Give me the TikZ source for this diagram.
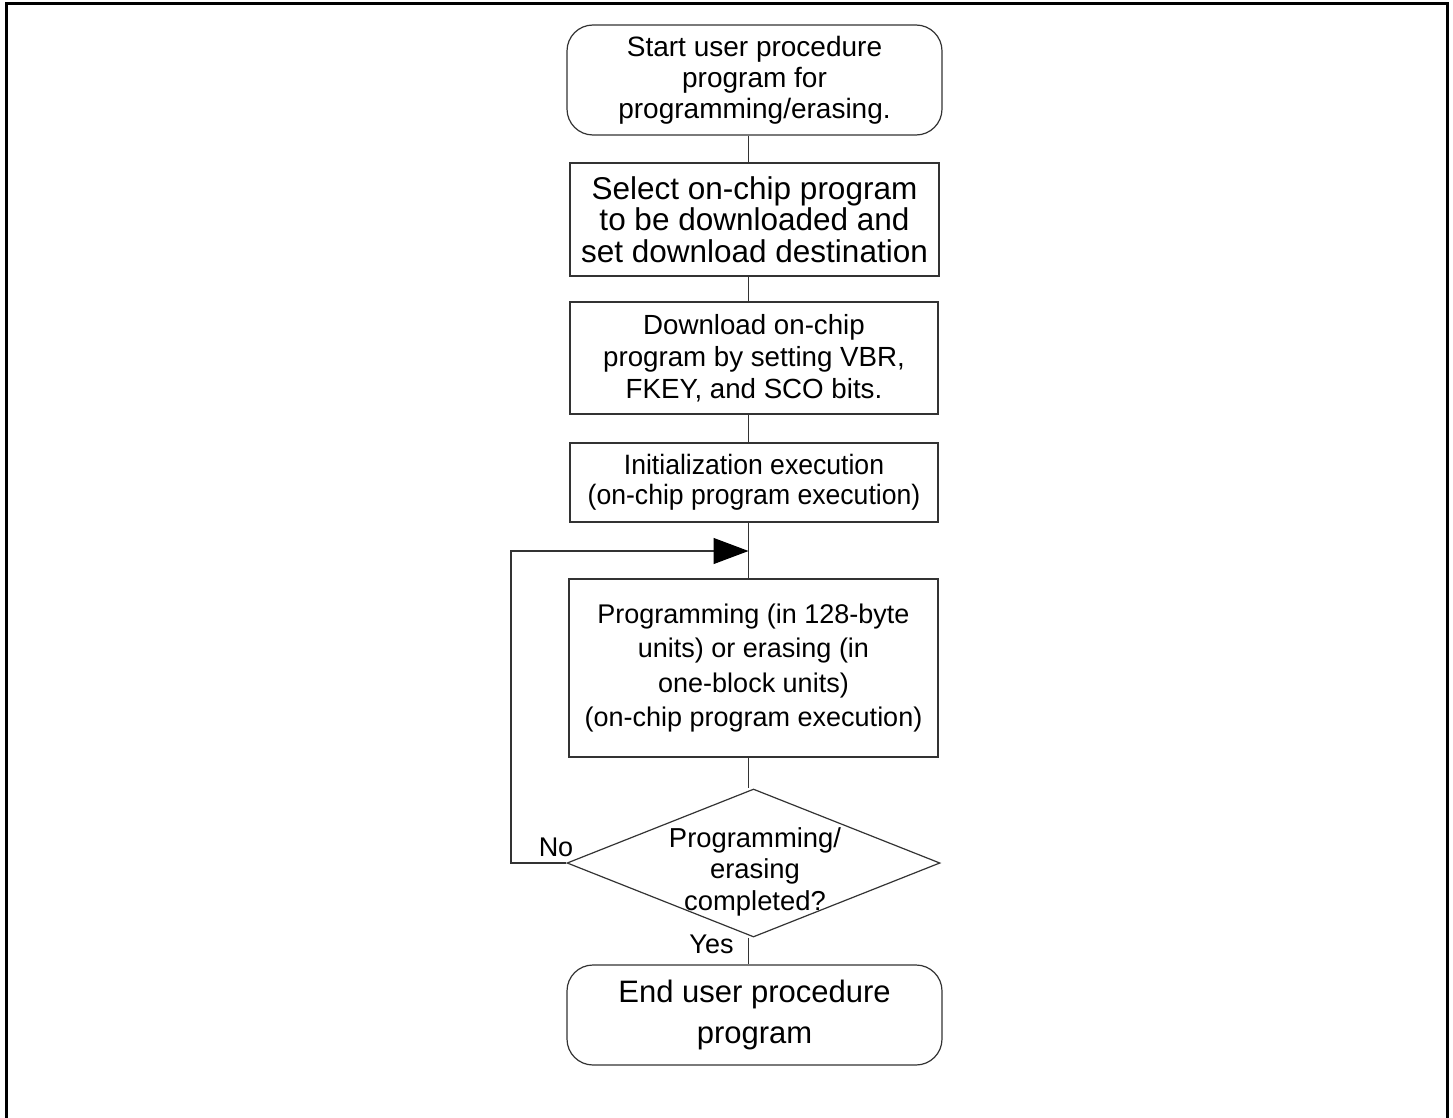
\documentclass[tikz,border=0pt]{standalone}
\usepackage{fontspec}
\setmainfont{Liberation Sans}
\newfontfamily\condfont[FakeStretch=0.95]{Liberation Sans}
\usetikzlibrary{shapes.geometric,arrows.meta}

\begin{document}
\begin{tikzpicture}[x=1pt,y=-1pt,
  every node/.style={inner sep=0pt, align=center},
  boxline/.style={draw=black!80, line width=1.2pt},
  procbox/.style={boxline, rectangle},
  termbox/.style={boxline, rectangle, rounded corners=26pt},
  decbox/.style={boxline, diamond},
  conn/.style={draw=black!80, line width=1.2pt},
  lbl/.style={font=\fontsize{27}{32}\selectfont}]

\useasboundingbox (0,0) rectangle (1453,1118);
\fill[white] (0,0) rectangle (1453,1118);
\draw[line width=2.7pt] (6.3,1125) -- (6.3,3.3) -- (1447.6,3.3) -- (1447.6,1125);

\node[termbox, minimum width=375pt, minimum height=110pt, font=\fontsize{28}{31}\selectfont] (start) at (754.5,80) {Start user procedure\\program for\\programming/erasing.};
\node[procbox, minimum width=369pt, minimum height=113pt, font=\fontsize{31.5}{31.5}\selectfont] (sel) at (754.5,219.5) {Select on-chip program\\to be downloaded and\\set download destination};
\node[procbox, minimum width=368pt, minimum height=112pt, font=\fontsize{27.7}{32}\selectfont] (dl) at (754,358) {Download on-chip\\program by setting VBR,\\FKEY, and SCO bits.};
\node[procbox, minimum width=368pt, minimum height=79pt, font={\condfont\fontsize{28}{30}\selectfont}] (init) at (754,482.5) {Initialization execution\\(on-chip program execution)};
\node[procbox, minimum width=369pt, minimum height=178pt, font=\fontsize{27}{34.5}\selectfont] (prog) at (753.5,668) {Programming (in 128-byte\\units) or erasing (in\\one-block units)\\(on-chip program execution)};
\node[decbox, minimum width=373pt, minimum height=148pt] (dec) at (753.5,863) {};
\node[font=\fontsize{27.4}{31.5}\selectfont] (dectext) at (755,871.5) {Programming/\\erasing\\completed?};
\node[termbox, minimum width=375pt, minimum height=100pt, font=\fontsize{31}{41}\selectfont] (end) at (754.5,1015) {End user procedure\\program};

\node[lbl, anchor=base] (yes) at (711.5,953) {Yes};
\node[lbl, anchor=base] (no) at (556,856) {No};

\coordinate (spine) at (748.5,0);
\coordinate (loopc) at (511,551);
\coordinate (join) at (748.5,551);

\draw[conn] (start.south -| spine) -- (sel.north -| spine);
\draw[conn] (sel.south -| spine) -- (dl.north -| spine);
\draw[conn] (dl.south -| spine) -- (init.north -| spine);
\draw[conn] (init.south -| spine) -- (prog.north -| spine);
\draw[conn] (prog.south -| spine) -- (dec.north -| spine);
\draw[conn] (dec.south -| spine) -- (end.north -| spine);
\draw[conn, -{Triangle[length=35pt,width=26pt,color=black]}] (dec.west) -| (loopc) -- (join);
\end{tikzpicture}
\end{document}
